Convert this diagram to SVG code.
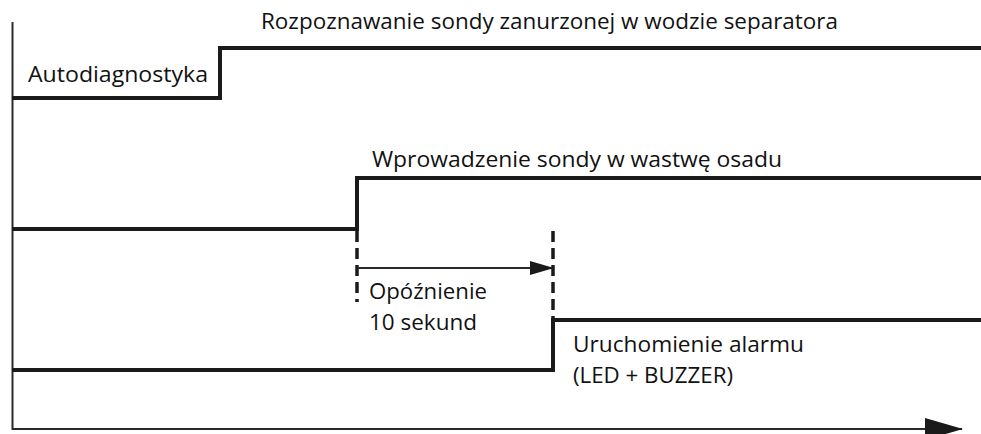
<svg xmlns="http://www.w3.org/2000/svg" width="981" height="434" viewBox="0 0 981 434">
  <defs>
    <style>
      .sig { fill: none; stroke: #1a1a1a; stroke-width: 4; stroke-linejoin: miter; stroke-linecap: butt; }
      .axis { fill: none; stroke: #2a2a2a; stroke-width: 2; }
      .dash { fill: none; stroke: #1a1a1a; stroke-width: 3.5; stroke-dasharray: 11 6; }
      .lbl { font-family: "Open Sans", "Liberation Sans", sans-serif; font-size: 21.5px; fill: #111; }
    </style>
    <marker id="head" markerWidth="24" markerHeight="14" refX="23" refY="7" orient="auto" markerUnits="userSpaceOnUse">
      <path d="M0,0 L24,7 L0,14 Z" fill="#1a1a1a"/>
    </marker>
    <marker id="timeHead" markerWidth="38" markerHeight="22" refX="37" refY="11" orient="auto" markerUnits="userSpaceOnUse">
      <path d="M0,0 L38,11 L0,22 Z" fill="#1a1a1a"/>
    </marker>
  </defs>

  <!-- axes -->
  <g id="axes">
    <line class="axis" x1="12.5" y1="22" x2="12.5" y2="430"/>
    <line class="axis" x1="12" y1="429" x2="962" y2="429" marker-end="url(#timeHead)"/>
  </g>

  <!-- signal traces -->
  <g id="signal-selftest">
    <path class="sig" d="M12,98 H220 V48 H981"/>
    <text class="lbl" x="28" y="82" textLength="180" lengthAdjust="spacingAndGlyphs">Autodiagnostyka</text>
    <text class="lbl" x="261" y="29" textLength="577" lengthAdjust="spacingAndGlyphs">Rozpoznawanie sondy zanurzonej w wodzie separatora</text>
  </g>

  <g id="signal-probe">
    <path class="sig" d="M12,229 H357 V178 H981"/>
    <text class="lbl" x="372" y="167" textLength="410" lengthAdjust="spacingAndGlyphs">Wprowadzenie sondy w wastwę osadu</text>
  </g>

  <g id="signal-alarm">
    <path class="sig" d="M12,370 H553 V320 H981"/>
    <text class="lbl" x="573" y="352" textLength="231" lengthAdjust="spacingAndGlyphs">Uruchomienie alarmu</text>
    <text class="lbl" x="573" y="383" textLength="160" lengthAdjust="spacingAndGlyphs">(LED + BUZZER)</text>
  </g>

  <!-- delay marker -->
  <g id="connectors">
    <line class="dash" x1="357" y1="231" x2="357" y2="302"/>
    <line class="dash" x1="553" y1="231" x2="553" y2="320"/>
    <line class="axis" x1="357" y1="268" x2="553" y2="268" marker-end="url(#head)"/>
  </g>

  <g id="delay-label">
    <text class="lbl" x="369" y="299" textLength="118" lengthAdjust="spacingAndGlyphs">Opóźnienie</text>
    <text class="lbl" x="369" y="330" textLength="108" lengthAdjust="spacingAndGlyphs">10 sekund</text>
  </g>
</svg>
